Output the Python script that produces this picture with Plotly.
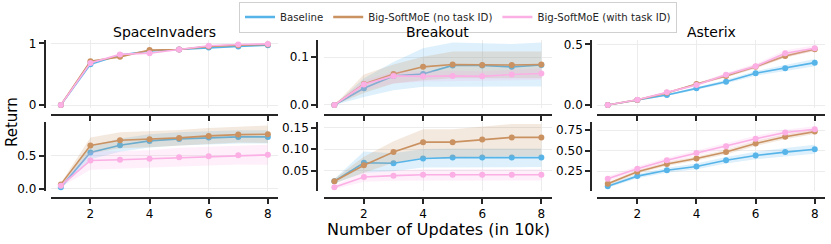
import plotly.graph_objects as go

# ---------------- data ----------------
updates = [1, 2, 3, 4, 5, 6, 7, 8]
games = ["SpaceInvaders", "Breakout", "Asterix"]
series_names = ["Baseline", "Big-SoftMoE (no task ID)", "Big-SoftMoE (with task ID)"]
x_tick_vals = [2, 4, 6, 8]

# top row (per game): means and CI half-widths for Baseline / no task ID / with task ID
si_top_base = [0.0, 0.66, 0.81, 0.876, 0.90, 0.93, 0.95, 0.97]
si_top_noid = [0.0, 0.71, 0.78, 0.89, 0.90, 0.95, 0.97, 0.98]
si_top_wid = [0.0, 0.68, 0.82, 0.84, 0.90, 0.96, 0.98, 0.99]
si_top_base_ci = [0.0, 0.02, 0.01, 0.01, 0.005, 0.005, 0.005, 0.005]
si_top_noid_ci = [0.0, 0.01, 0.01, 0.01, 0.005, 0.005, 0.005, 0.005]
si_top_wid_ci = [0.0, 0.01, 0.01, 0.01, 0.005, 0.005, 0.005, 0.005]

bo_top_base = [0.0, 0.035, 0.061, 0.065, 0.083, 0.083, 0.080, 0.084]
bo_top_noid = [0.0, 0.044, 0.065, 0.080, 0.085, 0.084, 0.084, 0.085]
bo_top_wid = [0.0, 0.043, 0.061, 0.060, 0.061, 0.060, 0.064, 0.066]
bo_top_base_lo = [0.0, 0.017, 0.031, 0.038, 0.038, 0.038, 0.039, 0.039]
bo_top_base_hi = [0.0, 0.056, 0.090, 0.119, 0.131, 0.130, 0.128, 0.131]
bo_top_noid_lo = [0.0, 0.025, 0.045, 0.052, 0.056, 0.056, 0.056, 0.056]
bo_top_noid_hi = [0.0, 0.064, 0.085, 0.101, 0.112, 0.112, 0.112, 0.112]
bo_top_wid_lo = [0.0, 0.030, 0.045, 0.049, 0.050, 0.050, 0.052, 0.053]
bo_top_wid_hi = [0.0, 0.052, 0.070, 0.071, 0.072, 0.071, 0.074, 0.077]

as_top_base = [0.0, 0.041, 0.082, 0.137, 0.192, 0.261, 0.302, 0.349]
as_top_noid = [0.0, 0.042, 0.100, 0.173, 0.239, 0.316, 0.404, 0.459]
as_top_wid = [0.0, 0.043, 0.104, 0.165, 0.250, 0.320, 0.426, 0.467]
as_top_base_ci = [0.0, 0.003, 0.008, 0.010, 0.015, 0.020, 0.025, 0.030]
as_top_noid_ci = [0.0, 0.003, 0.006, 0.008, 0.012, 0.015, 0.015, 0.015]
as_top_wid_ci = [0.0, 0.003, 0.006, 0.010, 0.015, 0.020, 0.025, 0.025]

# bottom row
si_bot_base = [0.02, 0.545, 0.655, 0.72, 0.75, 0.77, 0.78, 0.78]
si_bot_noid = [0.065, 0.65, 0.73, 0.745, 0.765, 0.795, 0.815, 0.82]
si_bot_wid = [0.045, 0.425, 0.435, 0.45, 0.475, 0.49, 0.505, 0.51]
si_bot_base_ci = [0.02, 0.10, 0.10, 0.10, 0.10, 0.10, 0.10, 0.10]
si_bot_noid_ci = [0.02, 0.12, 0.12, 0.12, 0.12, 0.12, 0.12, 0.13]
si_bot_wid_ci = [0.02, 0.14, 0.13, 0.13, 0.14, 0.14, 0.14, 0.15]

bo_bot_base = [0.025, 0.068, 0.067, 0.078, 0.080, 0.080, 0.080, 0.080]
bo_bot_noid = [0.025, 0.062, 0.093, 0.116, 0.116, 0.122, 0.127, 0.127]
bo_bot_wid = [0.011, 0.035, 0.038, 0.040, 0.040, 0.040, 0.040, 0.040]
bo_bot_base_lo = [0.020, 0.045, 0.048, 0.057, 0.058, 0.058, 0.058, 0.058]
bo_bot_base_hi = [0.030, 0.094, 0.090, 0.100, 0.101, 0.101, 0.101, 0.101]
bo_bot_noid_lo = [0.020, 0.045, 0.068, 0.080, 0.080, 0.082, 0.083, 0.083]
bo_bot_noid_hi = [0.030, 0.082, 0.118, 0.146, 0.146, 0.152, 0.158, 0.158]
bo_bot_wid_lo = [0.007, 0.024, 0.026, 0.027, 0.027, 0.027, 0.027, 0.027]
bo_bot_wid_hi = [0.015, 0.047, 0.050, 0.053, 0.053, 0.053, 0.053, 0.053]

as_bot_base = [0.067, 0.19, 0.262, 0.308, 0.383, 0.442, 0.483, 0.517]
as_bot_noid = [0.096, 0.242, 0.337, 0.404, 0.483, 0.588, 0.671, 0.733]
as_bot_wid = [0.158, 0.279, 0.383, 0.471, 0.554, 0.646, 0.721, 0.762]
as_bot_base_ci = [0.02, 0.025, 0.03, 0.035, 0.04, 0.045, 0.05, 0.055]
as_bot_noid_ci = [0.02, 0.02, 0.025, 0.025, 0.03, 0.03, 0.03, 0.03]
as_bot_wid_ci = [0.03, 0.03, 0.03, 0.03, 0.035, 0.035, 0.035, 0.035]

y_ticks_top = [[0, 1], [0.0, 0.1], [0.0, 0.5]]
y_ticktext_top = [["0", "1"], ["0.0", "0.1"], ["0.0", "0.5"]]
y_ticks_bot = [[0.0, 0.5], [0.05, 0.10, 0.15], [0.25, 0.50, 0.75]]
y_ticktext_bot = [["0.0", "0.5"], ["0.05", "0.10", "0.15"], ["0.25", "0.50", "0.75"]]


def sym(mean, ci):
    return [m - c for m, c in zip(mean, ci)], [m + c for m, c in zip(mean, ci)]


panels = {
    (0, 0): [(si_top_base, *sym(si_top_base, si_top_base_ci)),
             (si_top_noid, *sym(si_top_noid, si_top_noid_ci)),
             (si_top_wid, *sym(si_top_wid, si_top_wid_ci))],
    (0, 1): [(bo_top_base, bo_top_base_lo, bo_top_base_hi),
             (bo_top_noid, bo_top_noid_lo, bo_top_noid_hi),
             (bo_top_wid, bo_top_wid_lo, bo_top_wid_hi)],
    (0, 2): [(as_top_base, *sym(as_top_base, as_top_base_ci)),
             (as_top_noid, *sym(as_top_noid, as_top_noid_ci)),
             (as_top_wid, *sym(as_top_wid, as_top_wid_ci))],
    (1, 0): [(si_bot_base, *sym(si_bot_base, si_bot_base_ci)),
             (si_bot_noid, *sym(si_bot_noid, si_bot_noid_ci)),
             (si_bot_wid, *sym(si_bot_wid, si_bot_wid_ci))],
    (1, 1): [(bo_bot_base, bo_bot_base_lo, bo_bot_base_hi),
             (bo_bot_noid, bo_bot_noid_lo, bo_bot_noid_hi),
             (bo_bot_wid, bo_bot_wid_lo, bo_bot_wid_hi)],
    (1, 2): [(as_bot_base, *sym(as_bot_base, as_bot_base_ci)),
             (as_bot_noid, *sym(as_bot_noid, as_bot_noid_ci)),
             (as_bot_wid, *sym(as_bot_wid, as_bot_wid_ci))],
}

# ---------------- style / layout ----------------
W, H = 831, 244
colors = ["#56b4e9", "#ca9161", "#fbafe4"]
fills = ["rgba(86,180,233,0.2)", "rgba(202,145,97,0.2)", "rgba(251,175,228,0.2)"]
FONT = "DejaVu Sans"
INK = "#262626"
GRID = "#ececec"

col_px = [(50.5, 278.2), (324.0, 551.7), (597.4, 825.1)]
spine_px = [44.5, 317.0, 591.0]
row_px = [(39.5, 108.0), (121.5, 191.0)]
xline_px = [115.0, 198.0]
yranges = {
    (0, 0): [-0.0486, 1.0616], (0, 1): [-0.0063, 0.1373], (0, 2): [-0.0247, 0.5395],
    (1, 0): [-0.0346, 1.012], (1, 1): [0.0023, 0.164], (1, 2): [0.0085, 0.856],
}


def fx(p):
    return p / W


def fy(p):
    return 1 - p / H


fig = go.Figure()
layout = dict(
    width=W, height=H, margin=dict(l=0, r=0, t=0, b=0),
    paper_bgcolor="white", plot_bgcolor="white",
    font=dict(family=FONT, color=INK, size=12),
    showlegend=True,
)

idx = 0
for r in range(2):
    for c in range(3):
        idx += 1
        xa = "x" if idx == 1 else f"x{idx}"
        ya = "y" if idx == 1 else f"y{idx}"
        for s, (mean, lo, hi) in enumerate(panels[(r, c)]):
            fig.add_trace(go.Scatter(
                x=updates + updates[::-1], y=hi + lo[::-1], xaxis=xa, yaxis=ya,
                fill="toself", fillcolor=fills[s], line=dict(width=0, color=fills[s]),
                mode="lines", hoverinfo="skip", showlegend=False))
            fig.add_trace(go.Scatter(
                x=updates, y=mean, xaxis=xa, yaxis=ya, mode="lines+markers",
                line=dict(color=colors[s], width=1.6),
                marker=dict(color=colors[s], size=6),
                showlegend=False, name=series_names[s]))
        xkey = "xaxis" if idx == 1 else f"xaxis{idx}"
        ykey = "yaxis" if idx == 1 else f"yaxis{idx}"
        layout[xkey] = dict(
            domain=[fx(col_px[c][0]), fx(col_px[c][1])], range=[0.65, 8.35],
            anchor="free", position=fy(xline_px[r]),
            tickvals=x_tick_vals, ticktext=[str(v) for v in x_tick_vals],
            showticklabels=(r == 1), ticks="outside", ticklen=5, tickwidth=1.5,
            tickcolor=INK, showline=True, linecolor=INK, linewidth=1.6,
            showgrid=True, gridcolor=GRID, gridwidth=1, zeroline=False,
            tickfont=dict(size=12, color="black"), automargin=False,
        )
        yt = y_ticks_top[c] if r == 0 else y_ticks_bot[c]
        ytt = y_ticktext_top[c] if r == 0 else y_ticktext_bot[c]
        layout[ykey] = dict(
            domain=[fy(row_px[r][1]), fy(row_px[r][0])], range=yranges[(r, c)],
            anchor="free", position=fx(spine_px[c]),
            tickvals=yt, ticktext=ytt, ticks="outside", ticklen=5, tickwidth=1.5,
            tickcolor=INK, showline=True, linecolor=INK, linewidth=1.6,
            showgrid=True, gridcolor=GRID, gridwidth=1, zeroline=False,
            tickfont=dict(size=12, color="black"), automargin=False,
        )

# legend-only traces (lines without markers)
for s in range(3):
    fig.add_trace(go.Scatter(x=[None], y=[None], mode="lines", name=series_names[s],
                             line=dict(color=colors[s], width=2.5), showlegend=True))

layout["legend"] = dict(
    orientation="h", x=fx(458), xanchor="center", y=fy(1.5), yanchor="top",
    bordercolor="#d0d0d0", borderwidth=1, bgcolor="white",
    font=dict(size=10.2, family=FONT, color=INK), itemwidth=30,
    tracegroupgap=0,
)

annotations = []
for c, g in enumerate(games):
    annotations.append(dict(
        text=g, x=fx((col_px[c][0] + col_px[c][1]) / 2), y=fy(32), xref="paper", yref="paper",
        showarrow=False, font=dict(size=14, color="black", family=FONT),
        xanchor="center", yanchor="middle"))
annotations.append(dict(
    text="Number of Updates (in 10k)", x=fx(438), y=fy(229), xref="paper", yref="paper",
    showarrow=False, font=dict(size=16, color="black", family=FONT),
    xanchor="center", yanchor="middle"))
annotations.append(dict(
    text="Return", x=fx(12), y=fy(122), xref="paper", yref="paper", textangle=-90,
    showarrow=False, font=dict(size=15, color="black", family=FONT),
    xanchor="center", yanchor="middle"))
layout["annotations"] = annotations

fig.update_layout(**layout)
fig.write_html("out.html", post_script="document.body.style.margin='0';",
               config={"displayModeBar": False})
